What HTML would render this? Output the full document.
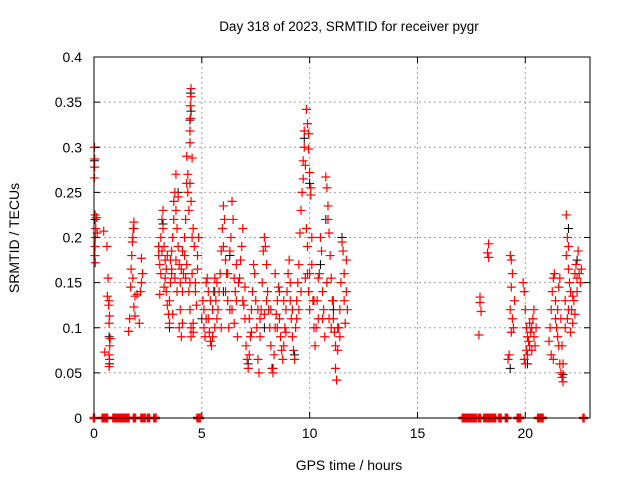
<!DOCTYPE html>
<html><head><meta charset="utf-8"><style>
html,body{margin:0;padding:0;background:#fff;}
svg{display:block;font-family:"Liberation Sans",sans-serif;}
</style></head><body>
<svg id="chart" width="640" height="480" viewBox="0 0 640 480">
<rect x="0" y="0" width="640" height="480" fill="#fff"/>
<g id="grid"></g>
<g id="marks"></g>
<rect x="94" y="57" width="496" height="361" fill="none" stroke="#000" stroke-width="1"/>
<g id="ticks"></g>
<text x="349" y="31" text-anchor="middle" font-size="13.5" fill="#000">Day 318 of 2023, SRMTID for receiver pygr</text>
<text x="349" y="470" text-anchor="middle" font-size="14" fill="#000">GPS time / hours</text>
<text x="19" y="238" text-anchor="middle" font-size="14" fill="#000" transform="rotate(-90 19 238)">SRMTID / TECUs</text>
</svg>
<script>
const xTicks = [0, 5, 10, 15, 20];
const yTicks = [0, 0.05, 0.1, 0.15, 0.2, 0.25, 0.3, 0.35, 0.4];
const yTickLabels = ["0", "0.05", "0.1", "0.15", "0.2", "0.25", "0.3", "0.35", "0.4"];
const redSeries = [
[0.02,0.30],[0.03,0.287],[0.03,0.278],[0.02,0.266],[0.05,0.225],[0.08,0.21],[0.06,0.20],[0.05,0.19],[0.04,0.18],[0.06,0.172],[0.12,0.222],[0.15,0.205],
[0.45,0.207],[0.5,0.073],[0.6,0.19],[0.65,0.155],[0.62,0.135],[0.7,0.13],[0.68,0.125],[0.72,0.113],[0.7,0.105],[0.75,0.088],[0.73,0.08],[0.7,0.07],[0.72,0.065],[0.7,0.057],
[1.6,0.096],[1.65,0.11],[1.7,0.145],[1.72,0.165],[1.75,0.18],[1.78,0.195],[1.8,0.2],[1.82,0.21],[1.85,0.217],[1.8,0.155],[1.9,0.135],[1.85,0.123],[1.9,0.113],[2.0,0.137],[2.1,0.105],[2.2,0.177],[2.25,0.16],[2.2,0.15],[2.15,0.14],
[3.0,0.19],[3.0,0.18],[3.05,0.17],[3.1,0.16],[3.05,0.137],[3.1,0.2],[3.15,0.22],[3.2,0.23],[3.2,0.21],[3.25,0.19],[3.3,0.175],[3.3,0.155],[3.35,0.14],[3.4,0.125],[3.45,0.115],[3.5,0.105],[3.5,0.13],[3.55,0.15],[3.6,0.165],[3.6,0.185],[3.65,0.2],[3.7,0.22],[3.7,0.24],[3.75,0.25],[3.8,0.27],[3.8,0.23],[3.85,0.21],[3.9,0.245],[3.9,0.19],[3.95,0.17],[4.0,0.15],[4.0,0.12],[3.95,0.1],[4.05,0.09],[4.1,0.105],[4.1,0.14],[4.15,0.16],[4.2,0.18],[4.2,0.2],[4.25,0.22],[4.3,0.26],[4.3,0.29],[4.35,0.27],[4.35,0.25],[4.4,0.23],[4.4,0.14],[4.45,0.12],[4.5,0.1],[4.5,0.09],[4.55,0.16],[4.55,0.2],[4.5,0.24],[4.45,0.26],[4.45,0.305],[4.45,0.318],[4.47,0.332],[4.47,0.346],[4.5,0.356],[4.5,0.365],[4.55,0.288],[4.6,0.21],[4.65,0.19],[4.7,0.15],[4.7,0.14],[4.75,0.125],[4.6,0.105],[4.8,0.18],[4.85,0.2],[4.8,0.165],[4.6,0.095],[3.6,0.16],[3.8,0.175],[4.25,0.155],[4.1,0.185],[3.4,0.18],
[3.15,0.185],[3.35,0.165],[3.55,0.175],[3.75,0.155],[3.85,0.14],[4.05,0.165],[4.3,0.17],[4.45,0.15],[3.25,0.145],[3.65,0.115],
[5.05,0.13],[5.1,0.12],[5.1,0.1],[5.15,0.09],[5.2,0.15],[5.25,0.155],[5.3,0.14],[5.3,0.11],[5.35,0.095],[5.4,0.085],[5.45,0.08],[5.5,0.09],[5.5,0.12],[5.55,0.14],[5.6,0.155],[5.65,0.13],[5.7,0.11],[5.75,0.12],[5.8,0.14],[5.85,0.16],[5.9,0.185],[5.95,0.21],[6.0,0.235],[6.0,0.19],[6.05,0.22],[6.1,0.175],[6.15,0.16],[6.2,0.13],[6.25,0.1],[6.3,0.12],[6.3,0.185],[6.35,0.2],[6.4,0.24],[6.45,0.22],[6.5,0.155],[6.55,0.14],[6.6,0.13],[6.65,0.09],[6.7,0.15],[6.75,0.155],[6.8,0.175],[6.85,0.19],[6.9,0.21],[6.95,0.125],[7.0,0.11],[7.05,0.08],[7.1,0.065],[7.15,0.055],[7.2,0.07],[7.25,0.09],[7.3,0.12],[7.35,0.14],[7.4,0.17],[7.45,0.16],[7.5,0.13],[7.55,0.1],[7.6,0.065],[7.65,0.05],[7.7,0.09],[7.75,0.12],[7.8,0.15],[7.85,0.185],[7.9,0.2],[7.95,0.19],[8.0,0.17],[8.05,0.14],[8.1,0.12],[8.15,0.1],[8.2,0.08],[8.25,0.055],[8.3,0.05],[8.35,0.07],[8.4,0.1],[8.45,0.115],[8.5,0.13],[8.55,0.145],[8.6,0.11],[8.65,0.09],[8.7,0.075],[8.75,0.065],[8.8,0.08],[8.85,0.1],[8.9,0.12],[8.95,0.14],[9.0,0.16],[9.05,0.175],[9.1,0.13],[9.15,0.11],[9.2,0.09],[9.25,0.075],[9.3,0.065],[9.35,0.1],[9.4,0.13],[9.45,0.15],[9.5,0.17],[9.55,0.205],[9.6,0.23],[9.65,0.25],[9.7,0.265],[9.7,0.285],[9.75,0.3],[9.75,0.318],[9.8,0.28],[9.85,0.21],[9.9,0.19],[9.9,0.16],[9.95,0.14],[10.0,0.12],[9.85,0.342],[9.9,0.326],[9.95,0.315],[9.95,0.298],[10.0,0.272],[10.05,0.255],[10.05,0.247],[10.1,0.2],[10.1,0.17],[10.15,0.13],[10.2,0.1],[10.25,0.08],[10.3,0.1],[10.35,0.13],[10.4,0.155],[10.45,0.16],[10.5,0.2],[10.55,0.185],[10.6,0.14],[10.65,0.12],[10.7,0.09],[10.75,0.267],[10.8,0.255],[10.85,0.235],[10.85,0.22],[10.9,0.205],[10.95,0.18],[11.0,0.155],[11.05,0.13],[11.1,0.11],[11.15,0.095],[11.2,0.08],[11.2,0.055],[11.25,0.042],[11.3,0.075],[11.35,0.1],[11.4,0.12],[11.45,0.15],[11.5,0.195],[11.55,0.185],[11.6,0.16],[11.6,0.13],[11.65,0.105],[11.7,0.175],[11.7,0.14],[11.75,0.12],
[5.4,0.13],[5.9,0.1],[6.2,0.16],[6.6,0.17],[7.0,0.145],[7.3,0.095],[7.7,0.11],[8.0,0.13],[8.4,0.16],[8.8,0.13],[9.2,0.12],[9.6,0.14],[10.0,0.16],[10.4,0.11],[10.9,0.11],[11.3,0.1],[6.4,0.12],[5.7,0.15],[8.6,0.14],[9.4,0.11],
[5.2,0.11],[5.6,0.1],[6.1,0.14],[6.5,0.105],[6.9,0.13],[7.2,0.11],[7.6,0.12],[7.9,0.115],[8.2,0.12],[8.5,0.1],[8.9,0.095],[9.1,0.15],[9.5,0.12],[9.8,0.155],[10.2,0.13],[10.6,0.11],[11.0,0.1],[11.4,0.09],[11.1,0.13],[10.8,0.15],
[17.9,0.134],[17.9,0.128],[17.95,0.118],[17.85,0.092],[18.3,0.193],[18.25,0.183],[18.3,0.178],
[19.3,0.18],[19.35,0.175],[19.4,0.16],[19.35,0.145],[19.3,0.12],[19.4,0.11],[19.45,0.1],[19.35,0.095],[19.25,0.07],[19.2,0.065],[19.5,0.13],
[19.9,0.15],[19.95,0.14],[20.0,0.12],[20.05,0.1],[20.1,0.09],[20.15,0.085],[20.2,0.08],[20.25,0.095],[20.3,0.1],[20.35,0.11],[20.4,0.09],[20.45,0.08],[20.05,0.075],[19.95,0.065],[20.0,0.06],[20.3,0.075],[20.4,0.12],[20.5,0.1],[20.2,0.105],[20.1,0.07],
[21.1,0.085],[21.15,0.1],[21.2,0.12],[21.25,0.14],[21.3,0.155],[21.35,0.16],[21.4,0.13],[21.45,0.1],[21.5,0.09],[21.55,0.08],[21.2,0.07],[21.3,0.065],[21.6,0.06],[21.65,0.05],[21.7,0.045],[21.75,0.04],[21.75,0.06],[21.7,0.08],[21.65,0.11],[21.55,0.145],[21.6,0.155],[21.4,0.11],[21.5,0.12],
[21.9,0.225],[21.95,0.2],[22.0,0.19],[21.9,0.18],[22.0,0.165],[22.05,0.15],[22.1,0.14],[22.15,0.12],[22.2,0.105],[22.25,0.13],[22.3,0.16],[22.35,0.17],[22.4,0.155],[22.1,0.095],[21.95,0.11],[22.45,0.185],[22.4,0.14],[21.85,0.13],[22.5,0.16],[22.55,0.15],[22.6,0.165],[22.3,0.115],[22.2,0.135],[22.0,0.12],[21.85,0.1]
];
const blackSeries = [
[0.02,0.285],[0.05,0.22],[0.7,0.09],[0.72,0.06],[1.85,0.21],[3.2,0.215],[3.9,0.25],[4.5,0.34],[4.48,0.36],[4.45,0.33],[5.0,0.11],[5.6,0.14],[6.3,0.18],[7.15,0.06],[8.3,0.055],[9.3,0.07],[9.75,0.31],[10.0,0.26],[10.5,0.17],[10.75,0.22],[11.1,0.12],[11.5,0.2],[19.3,0.055],[20.1,0.06],[21.75,0.048],[22.0,0.21],[22.4,0.175],[3.5,0.1],[6.0,0.14],[7.9,0.1]
];
const zeroTimes = [0.0,0.4,0.45,0.5,0.55,0.6,0.9,0.93,0.96,1.0,1.03,1.06,1.1,1.13,1.16,1.2,1.23,1.26,1.3,1.33,1.36,1.4,1.43,1.46,1.5,1.53,1.56,1.6,1.85,1.9,2.2,2.25,2.3,2.35,2.5,2.55,2.8,2.85,4.8,4.85,4.9,17.1,17.15,17.2,17.25,17.3,17.35,17.4,17.45,17.5,17.55,17.6,17.65,17.7,17.85,17.9,18.1,18.15,18.2,18.25,18.3,18.35,18.4,18.45,18.5,18.55,18.6,18.8,18.85,19.1,19.15,19.65,19.7,19.75,20.6,20.65,20.7,20.75,20.8,22.7];

const L=94,R=590,T=57,B=418,XMAX=23.0,YMAX=0.4;
const xs=t=>L+(t/XMAX)*(R-L);
const ys=v=>B-(v/YMAX)*(B-T);
const NS='http://www.w3.org/2000/svg';
const grid=document.getElementById('grid'),ticks=document.getElementById('ticks'),marks=document.getElementById('marks');
function mk(tag,attrs,parent){const e=document.createElementNS(NS,tag);for(const k in attrs)e.setAttribute(k,attrs[k]);parent.appendChild(e);return e;}
xTicks.forEach(t=>{
  const x=xs(t);
  if(t>0){const g=mk('line',{x1:x,x2:x,y1:T,y2:B,stroke:'#a0a0a0','stroke-dasharray':'2,3','stroke-width':1},grid);
  
  }
  const tk=mk('path',{d:`M${x},${B}v-6M${x},${T}v6`,stroke:'#000','stroke-width':1},ticks);
  
  
  const lb=mk('text',{x:x,y:B+20,'text-anchor':'middle','font-size':14,fill:'#000'},ticks);
  lb.textContent=String(t);
  
  
});
yTicks.forEach((v,i)=>{
  const y=ys(v);
  if(v>0&&v<YMAX){const g=mk('line',{x1:L,x2:R,y1:y,y2:y,stroke:'#a0a0a0','stroke-dasharray':'2,3','stroke-width':1},grid);
  
  }
  const tk=mk('path',{d:`M${L},${y}h6M${R},${y}h-6`,stroke:'#000','stroke-width':1},ticks);
  
  
  const lb=mk('text',{x:L-12,y:y+5,'text-anchor':'end','font-size':14,fill:'#000'},ticks);
  lb.textContent=yTickLabels[i];
  
  
});
function plus(t,v,color,name,w){
  const x=xs(t),y=ys(v);
  const p=mk('path',{d:`M${x-4.5},${y}h9M${x},${y-4.5}v9`,stroke:color,'stroke-width':w},marks);
  
  
}
blackSeries.forEach(d=>plus(d[0],d[1],'#000','black-point',1));
redSeries.forEach(d=>plus(d[0],d[1],'#ff0000','red-point',1.2));
zeroTimes.forEach(t=>plus(t,0,'#ff0000','zero-point',2.5));
</script>
</body></html>
